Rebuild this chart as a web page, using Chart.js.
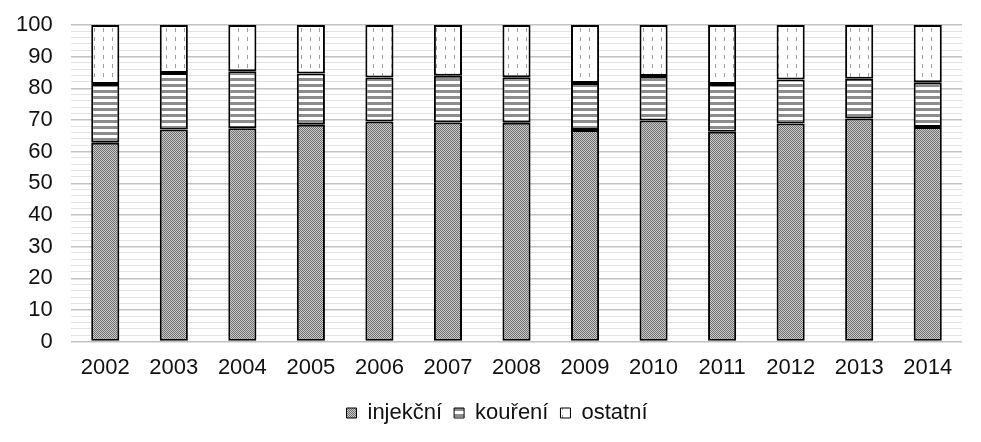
<!DOCTYPE html>
<html>
<head>
<meta charset="utf-8">
<script src="https://cdn.jsdelivr.net/npm/chart.js@4/dist/chart.umd.min.js"></script>
<style>
  html, body { margin: 0; padding: 0; background: #fff; }
</style>
</head>
<body>
<canvas id="chart" width="981" height="442"></canvas>
<script>
const years = ['2002', '2003', '2004', '2005', '2006', '2007', '2008', '2009', '2010', '2011', '2012', '2013', '2014'];
const injekcni = [62.8, 67.0, 67.4, 68.5, 69.5, 69.2, 69.1, 66.8, 69.8, 66.3, 68.9, 70.5, 67.8];
const koureni = [18.6, 17.8, 18.0, 16.2, 13.9, 14.8, 14.4, 14.9, 14.1, 15.1, 13.9, 12.5, 14.1];
const ostatni = [18.6, 15.2, 14.6, 15.3, 16.6, 16.0, 16.5, 18.3, 16.1, 18.6, 17.2, 17.0, 18.1];

function makePattern(w, h, draw) {
    const c = document.createElement('canvas');
    c.width = w;
    c.height = h;
    const g = c.getContext('2d');
    draw(g);
    return c.getContext('2d').createPattern(c, 'repeat');
}

// fine checker for injekční
const checkerFill = makePattern(2, 2, function (g) {
    g.fillStyle = '#cacaca';
    g.fillRect(0, 0, 2, 2);
    g.fillStyle = '#707070';
    g.fillRect(0, 0, 1, 1);
    g.fillRect(1, 1, 1, 1);
});

// horizontal stripes for kouření
const stripeFill = makePattern(6, 6, function (g) {
    g.fillStyle = '#ffffff';
    g.fillRect(0, 0, 6, 6);
    g.fillStyle = '#8c8c8c';
    g.fillRect(0, 0, 6, 3);
});

// dashed verticals for ostatní
const dashFill = makePattern(9, 9, function (g) {
    g.fillStyle = '#ffffff';
    g.fillRect(0, 0, 9, 9);
    g.fillStyle = '#a0a0a0';
    g.fillRect(4, 1, 1, 4);
});

const barStyle = {
    borderColor: '#000',
    borderWidth: 2,
    borderSkipped: false,
    barPercentage: 0.41,
    categoryPercentage: 1,
};

const fontFamily = 'Liberation Sans, Arial, sans-serif';

// nudge the legend a bit right, like the original
const shiftLegend = {
    id: 'shiftLegend',
    afterLayout: function (chart) {
        chart.legend.left += 16;
        chart.legend.right += 16;
    },
};

new Chart(document.getElementById('chart'), {
    type: 'bar',
    data: {
        labels: years,
        datasets: [
            Object.assign({ label: 'injekční', data: injekcni, backgroundColor: checkerFill }, barStyle),
            Object.assign({ label: 'kouření', data: koureni, backgroundColor: stripeFill }, barStyle),
            Object.assign({ label: 'ostatní', data: ostatni, backgroundColor: dashFill }, barStyle),
        ],
    },
    plugins: [shiftLegend],
    options: {
        responsive: false,
        animation: false,
        layout: { padding: { top: 25, right: 19, left: 0, bottom: 8 } },
        plugins: {
            tooltip: { enabled: false },
            legend: {
                position: 'bottom',
                labels: {
                    boxWidth: 10,
                    boxHeight: 10,
                    padding: 12,
                    color: '#111',
                    font: { family: fontFamily, size: 22 },
                    generateLabels: function (chart) {
                        return chart.data.datasets.map(function (ds, i) {
                            return {
                                text: ds.label,
                                fillStyle: ds.backgroundColor,
                                strokeStyle: '#000',
                                lineWidth: 1,
                                datasetIndex: i,
                                fontColor: '#111',
                            };
                        });
                    },
                },
            },
        },
        scales: {
            x: {
                stacked: true,
                grid: { display: false },
                border: { display: false },
                afterFit: function (scale) { scale.height += 4; },
                ticks: {
                    color: '#111',
                    padding: 5,
                    font: { family: fontFamily, size: 22 },
                },
            },
            y: {
                stacked: true,
                min: 0,
                max: 100,
                border: { display: false },
                afterFit: function (scale) { scale.width = 71; },
                grid: {
                    drawTicks: false,
                    color: function (ctx) {
                        return ctx.tick && ctx.tick.value % 10 === 0 ? '#c2c2c2' : '#e3e3e3';
                    },
                    lineWidth: function (ctx) {
                        return ctx.tick && ctx.tick.value % 10 === 0 ? 1.5 : 1;
                    },
                },
                ticks: {
                    stepSize: 2,
                    autoSkip: false,
                    padding: 0,
                    color: '#111',
                    font: { family: fontFamily, size: 22 },
                    // trailing spaces keep the gap to the plot without adding top padding
                    callback: function (v) { return v % 10 === 0 ? v + '   ' : ''; },
                },
            },
        },
    },
});
</script>
</body>
</html>
